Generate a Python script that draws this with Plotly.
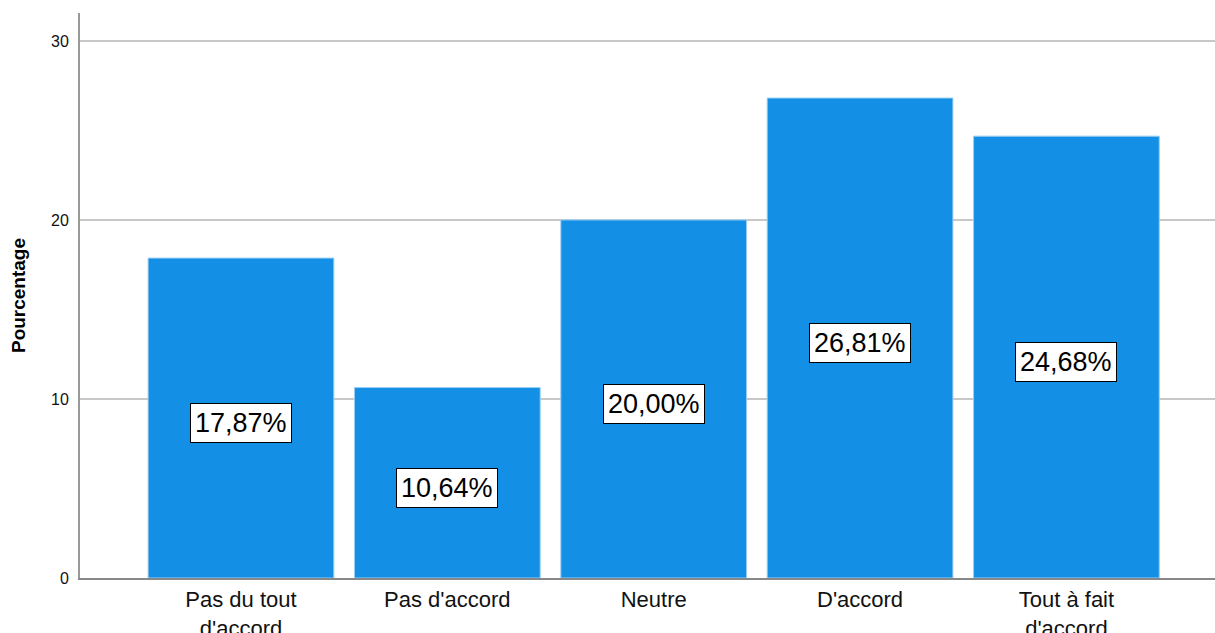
import plotly.graph_objects as go

categories = ["Pas du tout<br>d'accord", "Pas d'accord", "Neutre", "D'accord", "Tout à fait<br>d'accord"]
percentages = [17.87, 10.64, 20.00, 26.81, 24.68]
y_ticks = [0, 10, 20, 30]

bar_color = "#1390E6"

fig = go.Figure()
fig.add_trace(go.Bar(
    x=categories,
    y=percentages,
    width=0.9,
    marker=dict(color=bar_color, line=dict(color="#9ccdf2", width=1)),
    hoverinfo="x+y",
))

# value labels in bordered boxes at mid-height of each bar
for cat, val in zip(categories, percentages):
    fig.add_annotation(
        x=cat, y=val / 2 - 0.3,
        text=f"{val:.2f}%".replace(".", ","),
        showarrow=False,
        font=dict(family="Liberation Sans, Arial", size=27, color="black"),
        bgcolor="white",
        bordercolor="black",
        borderwidth=1,
        borderpad=4,
    )

fig.update_layout(
    width=1215, height=633,
    margin=dict(l=80, r=0, t=13, b=55),
    paper_bgcolor="white",
    plot_bgcolor="white",
    showlegend=False,
    font=dict(family="Liberation Sans, Arial", color="black"),
    xaxis=dict(
        range=[-0.78, 4.72],
        automargin=False,
        showline=True, linecolor="#888888", linewidth=1.5,
        showgrid=False, ticks="",
        tickfont=dict(size=22, color="#111111"),
        ticklabelstandoff=1,
        fixedrange=True,
    ),
    yaxis=dict(
        range=[0, 31.56],
        automargin=False,
        tickvals=y_ticks,
        showline=True, linecolor="#999999", linewidth=2,
        showgrid=True, gridcolor="#c8c8c8", gridwidth=1.5,
        zeroline=False, ticks="",
        tickfont=dict(size=16, color="#111111"),
        ticklabelstandoff=6,
        title=dict(text="<b>Pourcentage</b>", font=dict(size=19, color="black"), standoff=20),
        fixedrange=True,
    ),
)

fig.write_html("out.html")
